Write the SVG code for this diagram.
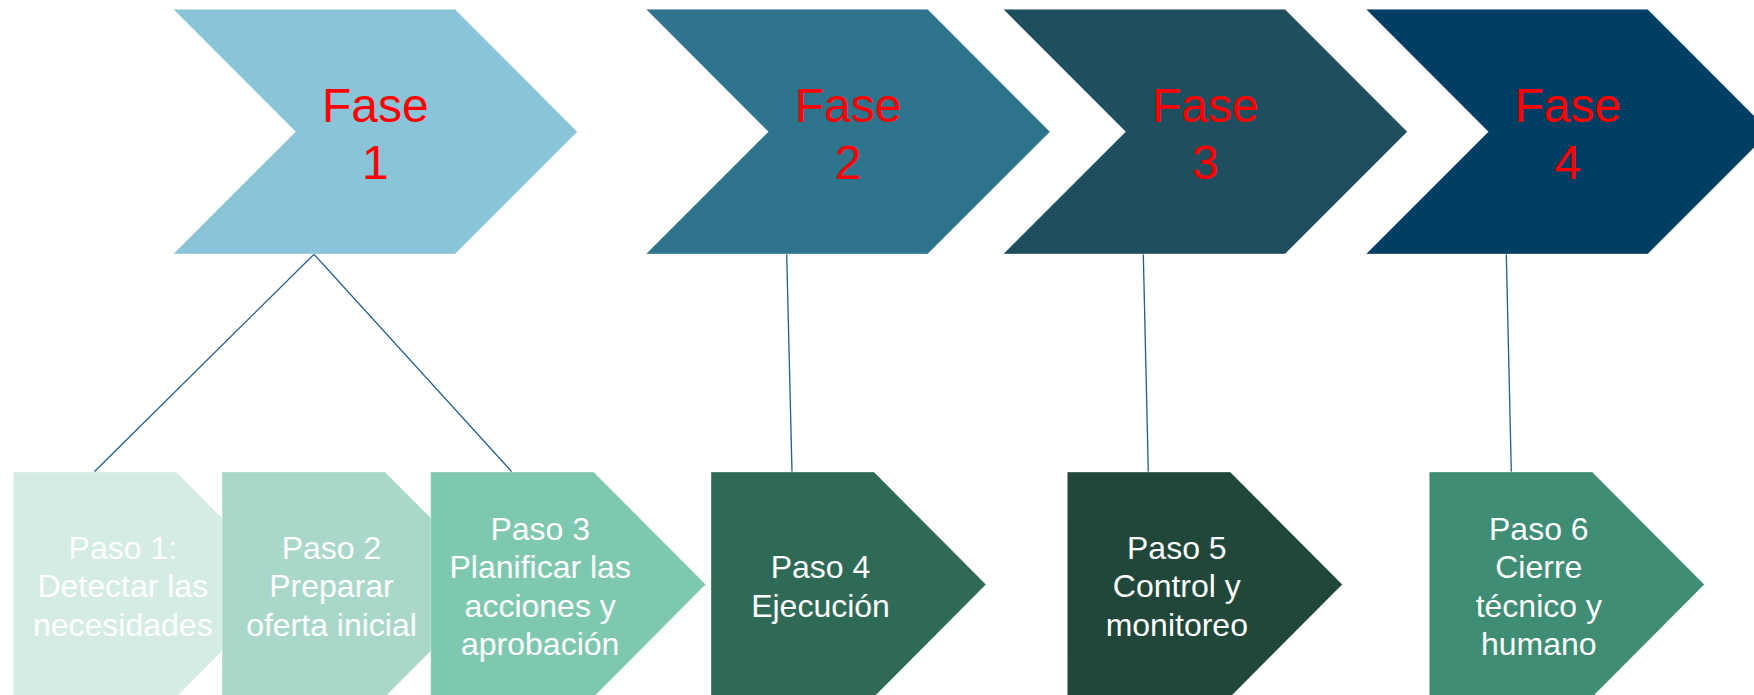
<svg xmlns="http://www.w3.org/2000/svg" width="1754" height="695" viewBox="0 0 1754 695">
<style>
.fase{font-family:"Liberation Sans",Arial,sans-serif;font-size:48px;fill:#FF0000;text-anchor:middle}
.paso{font-family:"Liberation Sans",Arial,sans-serif;font-size:32px;fill:#FFFFFF;text-anchor:middle}
.shape{stroke:#FFFFFF;stroke-opacity:0.35;stroke-width:1}
.conn{stroke:#1F5F91;stroke-width:1.3;fill:none}
</style>
<rect width="1754" height="695" fill="#FFFFFF"/>
<g id="connectors">
<line class="conn" x1="314" y1="254.3" x2="94.3" y2="471.7"/>
<line class="conn" x1="314" y1="254.3" x2="511.7" y2="471.7"/>
<line class="conn" x1="786.7" y1="254.3" x2="792" y2="471.7"/>
<line class="conn" x1="1143.3" y1="254.3" x2="1148.3" y2="471.7"/>
<line class="conn" x1="1506.3" y1="254.3" x2="1511.3" y2="471.7"/>
</g>
<g id="fase1">
<path class="shape" fill="#8AC4D9" d="M173.3,9.3 H455 L577.3,131.7 L455,254 H173.3 L295.6,131.7 Z"/>
<text class="fase" x="375.3" y="121.7">Fase</text>
<text class="fase" x="375.3" y="179.3">1</text>
</g>
<g id="fase2">
<path class="shape" fill="#2E748D" d="M646,9.3 H927.7 L1050,131.7 L927.7,254 H646 L768.3,131.7 Z"/>
<text class="fase" x="848" y="121.7">Fase</text>
<text class="fase" x="848" y="179.3">2</text>
</g>
<g id="fase3">
<path class="shape" fill="#1F4E5F" d="M1003.3,9.3 H1285 L1407.3,131.7 L1285,254 H1003.3 L1125.6,131.7 Z"/>
<text class="fase" x="1205.3" y="121.7">Fase</text>
<text class="fase" x="1205.3" y="179.3">3</text>
</g>
<g id="fase4">
<path class="shape" fill="#003E63" d="M1366,9.3 H1647.7 L1770,131.7 L1647.7,254 H1366 L1488.3,131.7 Z"/>
<text class="fase" x="1567.8" y="121.7">Fase</text>
<text class="fase" x="1567.8" y="179.3">4</text>
</g>
<g id="paso1">
<path class="shape" fill="#D5ECE5" d="M13.3,472 H176.3 L288.3,584.5 L176.3,697 H13.3 Z"/>
<text class="paso" x="122.8" y="559">Paso 1:</text>
<text class="paso" x="122.8" y="597.3">Detectar las</text>
<text class="paso" x="122.8" y="635.6">necesidades</text>
</g>
<g id="paso2">
<path class="shape" fill="#A9D8CA" d="M222,472 H385 L497,584.5 L385,697 H222 Z"/>
<text class="paso" x="331.5" y="559">Paso 2</text>
<text class="paso" x="331.5" y="597.3">Preparar</text>
<text class="paso" x="331.5" y="635.6">oferta inicial</text>
</g>
<g id="paso3">
<path class="shape" fill="#7FC8B0" d="M430.7,472 H593.7 L705.7,584.5 L593.7,697 H430.7 Z"/>
<text class="paso" x="540.2" y="539.9">Paso 3</text>
<text class="paso" x="540.2" y="578.2">Planificar las</text>
<text class="paso" x="540.2" y="616.5">acciones y</text>
<text class="paso" x="540.2" y="654.8">aprobación</text>
</g>
<g id="paso4">
<path class="shape" fill="#2E6A56" d="M711,472 H874 L986,584.5 L874,697 H711 Z"/>
<text class="paso" x="820.5" y="578.2">Paso 4</text>
<text class="paso" x="820.5" y="616.5">Ejecución</text>
</g>
<g id="paso5">
<path class="shape" fill="#20473A" d="M1067.3,472 H1230.3 L1342.3,584.5 L1230.3,697 H1067.3 Z"/>
<text class="paso" x="1176.8" y="559">Paso 5</text>
<text class="paso" x="1176.8" y="597.3">Control y</text>
<text class="paso" x="1176.8" y="635.6">monitoreo</text>
</g>
<g id="paso6">
<path class="shape" fill="#3E8D74" d="M1429.3,472 H1592.3 L1704.3,584.5 L1592.3,697 H1429.3 Z"/>
<text class="paso" x="1538.8" y="539.9">Paso 6</text>
<text class="paso" x="1538.8" y="578.2">Cierre</text>
<text class="paso" x="1538.8" y="616.5">técnico y</text>
<text class="paso" x="1538.8" y="654.8">humano</text>
</g>
</svg>
